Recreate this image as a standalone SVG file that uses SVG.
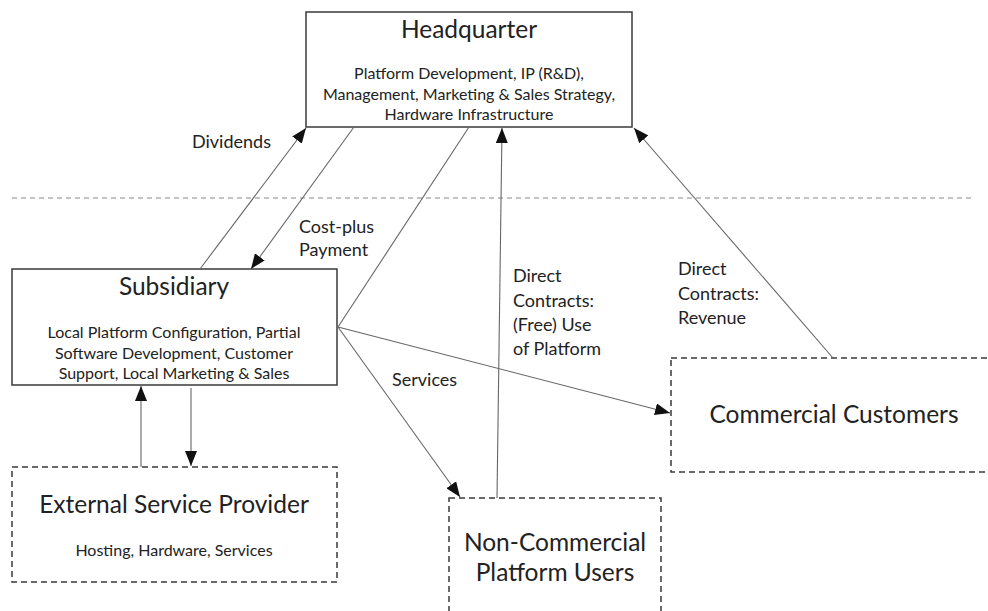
<svg xmlns="http://www.w3.org/2000/svg" width="988" height="611" viewBox="0 0 988 611">
<style>
.box{fill:#fff;stroke:#3a3a3a;stroke-width:1.5}
.dbox{fill:#fff;stroke:#3a3a3a;stroke-width:1.5;stroke-dasharray:6 4}
.title{font-family:Lato,"Open Sans",sans-serif;font-size:24.5px;fill:#222;text-anchor:middle}
.body{font-family:Lato,"Open Sans",sans-serif;font-size:16px;fill:#222;text-anchor:middle}
.lbl{font-family:Lato,"Open Sans",sans-serif;font-size:18px;fill:#222}
.conn line{stroke:#666;stroke-width:1.1}
</style>
<defs>
<marker id="ah" markerUnits="userSpaceOnUse" markerWidth="16" markerHeight="12" refX="15" refY="6" orient="auto">
<path d="M0,0 L15,6 L0,12 Z" fill="#111"/>
</marker>
</defs>
<rect width="988" height="611" fill="#fff"/>
<line x1="12" y1="198" x2="975" y2="198" stroke="#888" stroke-width="1" stroke-dasharray="5 4"/>
<g id="headquarter">
<rect class="box" x="306" y="12" width="326" height="115"/>
<text class="title" x="469" y="38">Headquarter</text>
<text class="body" x="469" y="79">Platform Development, IP (R&amp;D),</text>
<text class="body" x="469" y="100">Management, Marketing &amp; Sales Strategy,</text>
<text class="body" x="469" y="120">Hardware Infrastructure</text>
</g>
<g id="subsidiary">
<rect class="box" x="12" y="269" width="325" height="116"/>
<text class="title" x="174" y="295">Subsidiary</text>
<text class="body" x="174" y="338">Local Platform Configuration, Partial</text>
<text class="body" x="174" y="359">Software Development, Customer</text>
<text class="body" x="174" y="379">Support, Local Marketing &amp; Sales</text>
</g>
<g id="external-service-provider">
<rect class="dbox" x="12" y="467" width="325" height="115"/>
<text class="title" x="174" y="513">External Service Provider</text>
<text class="body" x="174" y="556">Hosting, Hardware, Services</text>
</g>
<g id="non-commercial-platform-users">
<rect class="dbox" x="449" y="498" width="212" height="130"/>
<text class="title" x="555" y="551">Non-Commercial</text>
<text class="title" x="555" y="581">Platform Users</text>
</g>
<g id="commercial-customers">
<rect class="dbox" x="671" y="358" width="330" height="114"/>
<text class="title" x="834" y="423">Commercial Customers</text>
</g>
<g id="connectors" class="conn">
<line x1="200" y1="269" x2="306" y2="128" marker-end="url(#ah)"/>
<line x1="354" y1="127" x2="251" y2="269" marker-end="url(#ah)"/>
<line x1="469" y1="127" x2="338" y2="327"/>
<line x1="338" y1="327" x2="670" y2="413" marker-end="url(#ah)"/>
<line x1="338" y1="327" x2="460" y2="497" marker-end="url(#ah)"/>
<line x1="497" y1="498" x2="502" y2="128" marker-end="url(#ah)"/>
<line x1="833" y1="358" x2="634" y2="128" marker-end="url(#ah)"/>
<line x1="141" y1="467" x2="141" y2="386" marker-end="url(#ah)"/>
<line x1="191" y1="388" x2="191" y2="466" marker-end="url(#ah)"/>
</g>
<g id="labels">
<text class="lbl" x="192" y="148">Dividends</text>
<text class="lbl" x="299" y="233">Cost-plus</text>
<text class="lbl" x="299" y="256">Payment</text>
<text class="lbl" x="392" y="386">Services</text>
<text class="lbl" x="513" y="282">Direct</text>
<text class="lbl" x="513" y="307">Contracts:</text>
<text class="lbl" x="513" y="331">(Free) Use</text>
<text class="lbl" x="513" y="355">of Platform</text>
<text class="lbl" x="678" y="275">Direct</text>
<text class="lbl" x="678" y="300">Contracts:</text>
<text class="lbl" x="678" y="324">Revenue</text>
</g>
</svg>
